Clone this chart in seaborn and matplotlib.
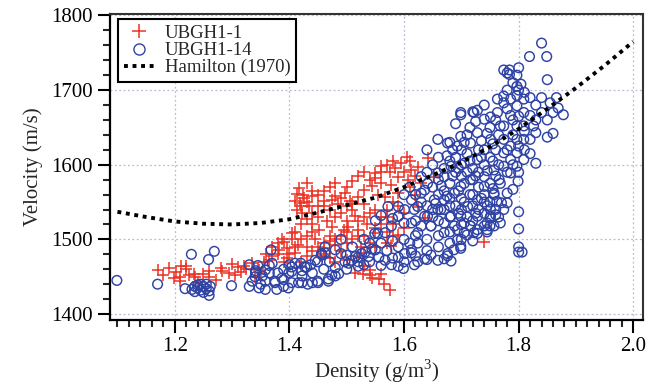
import numpy as np
import pandas as pd
import matplotlib
matplotlib.use("Agg")
import matplotlib.pyplot as plt
from matplotlib.ticker import MultipleLocator
from matplotlib.lines import Line2D
import seaborn as sns

RED = "#ec3326"
BLUE = "#2f43a5"

# (density g/m3, velocity m/s)
ubgh1_1_points = [
    # low-density group
    (1.170, 1459), (1.179, 1452), (1.202, 1456), (1.211, 1465), (1.219, 1465), (1.199, 1448),
    (1.210, 1444), (1.225, 1452), (1.236, 1449), (1.250, 1453), (1.260, 1450), (1.272, 1446),
    (1.240, 1443), (1.233, 1454), (1.283, 1457), (1.294, 1455), (1.300, 1467), (1.310, 1463),
    (1.305, 1452), (1.316, 1456), (1.325, 1460), (1.335, 1468), (1.345, 1462), (1.355, 1470),
    (1.340, 1450), (1.320, 1465), (1.280, 1462), (1.260, 1458), (1.220, 1460), (1.210, 1450),
    (1.190, 1462), (1.350, 1455),
    # streak 1.34 - 1.43
    (1.347, 1459), (1.364, 1472), (1.380, 1481), (1.387, 1500), (1.382, 1486), (1.404, 1500),
    (1.415, 1492), (1.404, 1509), (1.390, 1497), (1.396, 1488), (1.370, 1478), (1.395, 1475),
    (1.410, 1482), (1.420, 1470), (1.430, 1478), (1.360, 1480), (1.370, 1490), (1.380, 1495),
    (1.390, 1470), (1.400, 1480), (1.410, 1490), (1.410, 1510), (1.420, 1520), (1.420, 1500),
    # upper cloud
    (1.416, 1569), (1.413, 1561), (1.423, 1559), (1.410, 1552), (1.418, 1549), (1.413, 1540),
    (1.422, 1536), (1.430, 1527), (1.425, 1555), (1.435, 1545), (1.440, 1535), (1.474, 1553),
    (1.497, 1562), (1.520, 1557), (1.531, 1566), (1.549, 1589), (1.540, 1580), (1.545, 1571),
    (1.460, 1545), (1.485, 1548), (1.505, 1552), (1.450, 1530), (1.465, 1525), (1.490, 1535),
    (1.510, 1540), (1.530, 1548), (1.555, 1560), (1.560, 1575), (1.514, 1531), (1.503, 1517),
    (1.474, 1517), (1.451, 1513), (1.445, 1500), (1.480, 1500), (1.520, 1505), (1.550, 1508),
    (1.460, 1488), (1.531, 1464), (1.514, 1455), (1.540, 1452), (1.440, 1520), (1.495, 1512),
    (1.535, 1520), (1.470, 1505), (1.500, 1495), (1.540, 1495), (1.455, 1478), (1.490, 1485),
    (1.525, 1490), (1.560, 1530), (1.570, 1540),
    (1.430, 1505), (1.440, 1510), (1.450, 1490), (1.460, 1495), (1.470, 1498), (1.480, 1492),
    (1.490, 1505), (1.500, 1510), (1.510, 1500), (1.520, 1512), (1.530, 1505), (1.550, 1515),
    (1.560, 1520), (1.570, 1510), (1.580, 1505), (1.430, 1490), (1.440, 1485), (1.460, 1480),
    (1.470, 1475), (1.480, 1470), (1.500, 1472), (1.520, 1478), (1.530, 1482), (1.550, 1490),
    (1.570, 1495), (1.450, 1560), (1.460, 1565), (1.470, 1570), (1.480, 1575), (1.430, 1575),
    (1.440, 1565), (1.500, 1570), (1.510, 1578), (1.520, 1585), (1.530, 1590), (1.550, 1582),
    (1.560, 1590), (1.570, 1600), (1.580, 1550), (1.590, 1545), (1.570, 1530), (1.550, 1540),
    (1.540, 1535), (1.530, 1530), (1.520, 1525), (1.500, 1525), (1.480, 1530), (1.470, 1540),
    (1.450, 1545), (1.430, 1550), (1.490, 1555), (1.510, 1548), (1.420, 1545), (1.440, 1558),
    (1.460, 1552), (1.480, 1558), (1.500, 1545),
    # right part
    (1.595, 1602), (1.612, 1593), (1.590, 1584), (1.607, 1580), (1.578, 1573), (1.625, 1597),
    (1.566, 1557), (1.590, 1562), (1.641, 1609), (1.652, 1584), (1.624, 1544), (1.600, 1535),
    (1.636, 1529), (1.605, 1610), (1.585, 1595), (1.575, 1590), (1.560, 1598), (1.620, 1560),
    (1.580, 1520), (1.600, 1515), (1.580, 1605), (1.600, 1590), (1.610, 1605), (1.620, 1585),
    (1.630, 1575), (1.610, 1570),
    # low stragglers
    (1.560, 1453), (1.578, 1491), (1.590, 1506), (1.528, 1453), (1.545, 1448), (1.556, 1447),
    (1.540, 1459), (1.565, 1440), (1.575, 1432), (1.740, 1497),
]

ubgh1_14_points = [
    # low-density group
    (1.099, 1445), (1.170, 1440), (1.229, 1480), (1.259, 1473), (1.269, 1484), (1.218, 1434),
    (1.299, 1438), (1.230, 1433), (1.235, 1430), (1.240, 1435), (1.245, 1432), (1.250, 1437),
    (1.250, 1429), (1.255, 1434), (1.260, 1431), (1.260, 1425), (1.240, 1439), (1.245, 1440),
    (1.235, 1437), (1.255, 1440), (1.262, 1437),
    # band 1.33 - 1.55
    (1.330, 1466), (1.341, 1455), (1.358, 1459), (1.330, 1437), (1.347, 1435), (1.358, 1433),
    (1.378, 1433), (1.398, 1435), (1.375, 1444), (1.390, 1446), (1.404, 1457), (1.410, 1468),
    (1.427, 1463), (1.437, 1466), (1.449, 1470), (1.457, 1479), (1.368, 1486), (1.341, 1458),
    (1.353, 1451), (1.335, 1444), (1.358, 1444), (1.375, 1442), (1.387, 1448), (1.399, 1455),
    (1.404, 1463), (1.400, 1466), (1.422, 1458), (1.430, 1463), (1.445, 1472), (1.456, 1481),
    (1.462, 1490), (1.480, 1486), (1.490, 1481), (1.500, 1479), (1.515, 1477), (1.526, 1481),
    (1.538, 1477), (1.550, 1486), (1.549, 1508), (1.540, 1495), (1.440, 1442), (1.450, 1442),
    (1.468, 1444), (1.480, 1451), (1.416, 1442), (1.422, 1451), (1.390, 1437), (1.365, 1455),
    (1.404, 1442), (1.503, 1468), (1.520, 1464), (1.530, 1466), (1.422, 1442), (1.432, 1440),
    (1.449, 1444), (1.365, 1465), (1.345, 1465), (1.380, 1455), (1.440, 1455), (1.420, 1468),
    (1.390, 1460), (1.370, 1468), (1.350, 1440), (1.340, 1450),
    # lower band 1.45 - 1.75
    (1.474, 1452), (1.468, 1447), (1.486, 1454), (1.497, 1470), (1.509, 1472), (1.520, 1476),
    (1.532, 1483), (1.544, 1487), (1.556, 1476), (1.567, 1472), (1.578, 1466), (1.590, 1464),
    (1.599, 1461), (1.590, 1476), (1.601, 1481), (1.613, 1486), (1.624, 1495), (1.618, 1466),
    (1.624, 1470), (1.636, 1474), (1.647, 1479), (1.659, 1472), (1.670, 1474), (1.682, 1471),
    (1.676, 1481), (1.687, 1486), (1.699, 1488), (1.693, 1499), (1.490, 1500), (1.462, 1482),
    (1.567, 1509), (1.578, 1518), (1.590, 1531), (1.601, 1540), (1.624, 1544), (1.613, 1522),
    (1.636, 1531), (1.647, 1518), (1.659, 1540), (1.670, 1522), (1.682, 1531), (1.693, 1513),
    (1.705, 1522), (1.716, 1518), (1.728, 1513), (1.740, 1518), (1.751, 1531), (1.745, 1522),
    (1.705, 1509), (1.722, 1509), (1.554, 1508), (1.699, 1491), (1.676, 1478), (1.640, 1473),
    (1.613, 1482), (1.728, 1508), (1.745, 1510), (1.710, 1506),
    (1.460, 1460), (1.480, 1462), (1.500, 1460), (1.520, 1470), (1.540, 1470), (1.560, 1465),
    (1.580, 1475), (1.600, 1470), (1.620, 1478), (1.640, 1485), (1.660, 1490), (1.680, 1495),
    (1.700, 1500), (1.720, 1498), (1.560, 1495), (1.580, 1498), (1.600, 1500), (1.620, 1505),
    (1.640, 1500), (1.660, 1505), (1.680, 1510), (1.570, 1485), (1.590, 1490), (1.610, 1495),
    (1.630, 1518), (1.650, 1530), (1.670, 1540), (1.600, 1522), (1.580, 1528), (1.560, 1532),
    (1.550, 1525), (1.530, 1500), (1.510, 1490), (1.470, 1470),
    # dense blob
    (1.641, 1575), (1.670, 1553), (1.699, 1571), (1.728, 1553), (1.757, 1562), (1.699, 1531),
    (1.641, 1531), (1.728, 1531), (1.757, 1518), (1.670, 1509), (1.624, 1509), (1.659, 1589),
    (1.682, 1598), (1.705, 1602), (1.728, 1607), (1.693, 1625), (1.716, 1629), (1.728, 1643),
    (1.751, 1634), (1.768, 1652), (1.763, 1670), (1.774, 1683), (1.699, 1670), (1.722, 1670),
    (1.740, 1661), (1.659, 1634), (1.676, 1629), (1.670, 1584), (1.630, 1584), (1.636, 1566),
    (1.653, 1553), (1.618, 1540), (1.740, 1584), (1.757, 1593), (1.768, 1575), (1.740, 1571),
    (1.716, 1580), (1.688, 1562), (1.664, 1540), (1.711, 1544), (1.751, 1540), (1.774, 1540),
    (1.768, 1522), (1.745, 1513), (1.716, 1518), (1.688, 1518), (1.647, 1518), (1.630, 1562),
    (1.613, 1553), (1.590, 1544), (1.572, 1544), (1.590, 1531), (1.680, 1575), (1.700, 1585),
    (1.720, 1595), (1.690, 1610), (1.710, 1615), (1.730, 1590), (1.660, 1560), (1.700, 1555),
    (1.740, 1600), (1.650, 1600), (1.720, 1560), (1.750, 1550), (1.760, 1540), (1.730, 1620),
    (1.660, 1610), (1.620, 1525), (1.640, 1545), (1.680, 1545), (1.710, 1530), (1.730, 1540),
    (1.640, 1590), (1.650, 1570), (1.660, 1580), (1.670, 1595), (1.680, 1605), (1.690, 1590),
    (1.700, 1600), (1.710, 1590), (1.720, 1580), (1.730, 1570), (1.740, 1560), (1.750, 1575),
    (1.760, 1585), (1.670, 1565), (1.680, 1555), (1.690, 1545), (1.700, 1540), (1.720, 1545),
    (1.740, 1550), (1.660, 1525), (1.680, 1530), (1.700, 1520), (1.720, 1525), (1.740, 1535),
    (1.630, 1550), (1.650, 1540), (1.620, 1560), (1.610, 1570), (1.600, 1560), (1.640, 1620),
    (1.700, 1620), (1.710, 1640), (1.740, 1620), (1.750, 1610), (1.760, 1620), (1.750, 1650),
    (1.760, 1660), (1.740, 1680), (1.690, 1655),
    (1.655, 1548), (1.665, 1572), (1.675, 1558), (1.685, 1585), (1.695, 1565), (1.705, 1575),
    (1.715, 1560), (1.725, 1585), (1.735, 1555), (1.745, 1592), (1.755, 1568), (1.765, 1600),
    (1.695, 1535), (1.705, 1550), (1.715, 1605), (1.725, 1535), (1.735, 1610), (1.745, 1545),
    (1.755, 1605), (1.765, 1530), (1.675, 1612), (1.685, 1620), (1.695, 1595), (1.705, 1630),
    (1.715, 1650), (1.725, 1658), (1.735, 1632), (1.745, 1642), (1.755, 1628), (1.765, 1640),
    # column near 1.8
    (1.680, 1630), (1.699, 1638), (1.699, 1667), (1.720, 1671), (1.728, 1673), (1.751, 1664),
    (1.774, 1727), (1.780, 1723), (1.800, 1730), (1.797, 1720), (1.797, 1705), (1.819, 1745),
    (1.840, 1763), (1.849, 1745), (1.850, 1714), (1.830, 1602), (1.850, 1637), (1.860, 1642),
    (1.878, 1667), (1.869, 1676), (1.866, 1690), (1.855, 1683), (1.774, 1692), (1.763, 1688),
    (1.786, 1688), (1.797, 1693), (1.809, 1688), (1.797, 1679), (1.809, 1670), (1.786, 1666),
    (1.774, 1652), (1.797, 1652), (1.809, 1652), (1.820, 1666), (1.830, 1680), (1.826, 1652),
    (1.797, 1634), (1.809, 1634), (1.774, 1634), (1.786, 1625), (1.774, 1616), (1.797, 1616),
    (1.786, 1607), (1.774, 1598), (1.786, 1589), (1.797, 1598), (1.809, 1607), (1.820, 1634),
    (1.830, 1643), (1.766, 1580), (1.799, 1578), (1.790, 1567), (1.784, 1727), (1.804, 1708),
    (1.784, 1721), (1.780, 1700), (1.790, 1710), (1.800, 1700), (1.810, 1697), (1.780, 1675),
    (1.790, 1660), (1.800, 1665), (1.810, 1645), (1.790, 1640), (1.780, 1620), (1.800, 1625),
    (1.810, 1620), (1.790, 1600), (1.780, 1590), (1.800, 1590), (1.820, 1615), (1.820, 1690),
    (1.830, 1660), (1.840, 1670), (1.840, 1690), (1.850, 1660), (1.860, 1670),
    # right stragglers
    (1.780, 1562), (1.770, 1549), (1.780, 1549), (1.762, 1551), (1.757, 1560), (1.760, 1533),
    (1.750, 1529), (1.750, 1518), (1.800, 1537), (1.800, 1514), (1.800, 1490), (1.800, 1483),
    (1.806, 1483),
]

hamilton_density = [1.10, 1.15, 1.20, 1.25, 1.30, 1.35, 1.40, 1.45, 1.50, 1.55,
                    1.60, 1.65, 1.70, 1.75, 1.80, 1.85, 1.90, 1.95, 2.00]
hamilton_velocity = [1537, 1530, 1524, 1521, 1520, 1522, 1527, 1536, 1546, 1556,
                     1570, 1586, 1603, 1624, 1648, 1675, 1703, 1733, 1765]

df1 = pd.DataFrame(ubgh1_1_points, columns=["density", "velocity"])
df14 = pd.DataFrame(ubgh1_14_points, columns=["density", "velocity"])
ham = pd.DataFrame({"density": hamilton_density, "velocity": hamilton_velocity})

sns.set_style("ticks")
plt.rcParams["font.family"] = ["Liberation Serif", "DejaVu Serif"]
plt.rcParams["mathtext.fontset"] = "custom"
plt.rcParams["mathtext.rm"] = "Liberation Serif"

fig = plt.figure(figsize=(6.52, 3.87), dpi=100)
ax = fig.add_axes([110 / 652, 1 - 320 / 387, 533 / 652, 306 / 387])

sns.scatterplot(data=df1, x="density", y="velocity", marker="+", color=RED,
                s=72, linewidth=1.1, ax=ax, zorder=2)
sns.scatterplot(data=df14, x="density", y="velocity", marker="o", facecolor="none",
                edgecolor=BLUE, s=48, linewidth=1.05, ax=ax, zorder=3)
sns.lineplot(data=ham, x="density", y="velocity", color="black", lw=2.8,
             linestyle=(0, (1, 1.2)), ax=ax, zorder=4)

ax.set_xlim(1.087, 2.017)
ax.set_ylim(1392, 1802)
ax.xaxis.set_major_locator(MultipleLocator(0.2))
ax.xaxis.set_minor_locator(MultipleLocator(0.02))
ax.yaxis.set_major_locator(MultipleLocator(100))
ax.yaxis.set_minor_locator(MultipleLocator(20))
ax.xaxis.set_major_formatter(plt.FuncFormatter(lambda v, p: f"{v:.1f}"))

ax.grid(True, which="major", color="#b9bad8", lw=0.9, ls=(0, (1.5, 2)))
ax.set_axisbelow(True)

for side in ["left", "bottom"]:
    ax.spines[side].set_color("black")
    ax.spines[side].set_linewidth(1.6)
for side in ["top", "right"]:
    ax.spines[side].set_visible(True)
    ax.spines[side].set_color("#333333")
    ax.spines[side].set_linewidth(1.5)

ax.tick_params(which="major", direction="out", length=9, width=1.5, labelsize=15,
               pad=3.5, colors="black", top=False, right=False)
ax.tick_params(which="minor", direction="out", length=5, width=1.5, top=False, right=False)

ax.set_xlabel("Density (g/m$^{\\mathrm{3}}$)", fontsize=15, labelpad=1)
ax.set_ylabel("Velocity (m/s)", fontsize=15, labelpad=6)

handles = [
    Line2D([], [], marker="+", color=RED, ls="none", ms=9.5, mew=1.1),
    Line2D([], [], marker="o", mfc="none", mec=BLUE, ls="none", ms=8, mew=1.0),
    Line2D([], [], color="black", lw=2.8, ls=(0, (1, 1.2))),
]
leg = ax.legend(handles, ["UBGH1-1", "UBGH1-14", "Hamilton (1970)"], loc="upper left",
                bbox_to_anchor=(0.015, 0.983), borderaxespad=0, fontsize=13.5,
                frameon=True, fancybox=False, framealpha=1, edgecolor="black",
                handlelength=1.6, handletextpad=0.6, labelspacing=0.0, borderpad=0.3)
leg.get_frame().set_linewidth(1.5)

fig.savefig("out.png", dpi=100)
